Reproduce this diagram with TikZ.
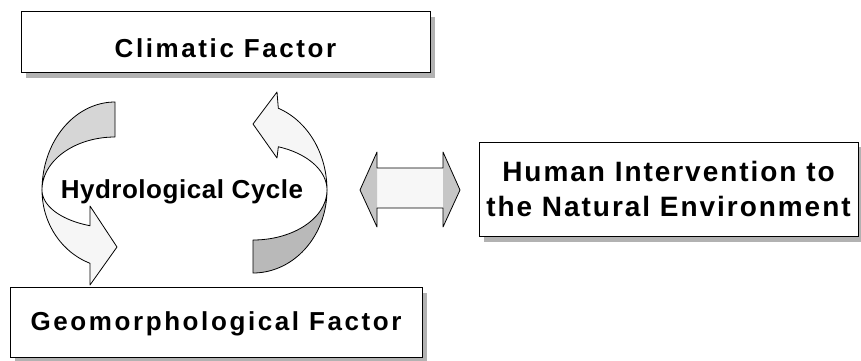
\documentclass[tikz,border=0pt]{standalone}
\usepackage{fontspec}
\setmainfont{Liberation Sans}
\newfontfamily\boxfont{Liberation Sans}[LetterSpace=10]
\newfontfamily\widefont{Liberation Sans}[LetterSpace=7]
\newfontfamily\cyclefont{Liberation Sans}[LetterSpace=2]
\usetikzlibrary{shadows}
\begin{document}
\begin{tikzpicture}[x=1pt,y=-1pt,
  factorbox/.style={draw=black, line width=0.9pt, fill=white, inner sep=0pt,
    font={\boxfont\bfseries\fontsize{26}{35}\selectfont},
    drop shadow={shadow xshift=5pt, shadow yshift=-6pt, fill=gray!60, opacity=1}},
  outline/.style={draw=black, line width=0.8pt, line join=round},
  backface/.style={fill=gray!32},
  darkface/.style={fill=gray!55},
  frontface/.style={fill=gray!7},
  headface/.style={fill=gray!45},
  shaftface/.style={fill=gray!6}]

\useasboundingbox (0,0) rectangle (861,360);

% factor boxes
\node[factorbox, minimum width=409pt, minimum height=61pt,
      text height=33pt, text depth=2pt] (climatic) at (225.5,41.5) {Climatic Factor};
\node[factorbox, minimum width=412pt, minimum height=70pt,
      text height=20pt, text depth=4pt] (geo) at (216,322) {Geomorphological Factor};
\node[factorbox, minimum width=379pt, minimum height=94pt, align=center,
      font={\widefont\bfseries\fontsize{28}{35}\selectfont},
      drop shadow={shadow xshift=5pt, shadow yshift=-5pt, fill=gray!60, opacity=1}]
      (human) at (668.5,189) {Human Intervention to\\the Natural Environment};

% left curved arrow: shaded tail band, then the front band with its head
\path[outline, backface]
  plot[domain=-90:-180, samples=40, variable=\t] ({115+73*cos(\t)},{190+88*sin(\t)})
  -- plot[domain=-180:-90, samples=40, variable=\t] ({115+73*cos(\t)},{190+53*sin(\t)})
  -- cycle;
\path[outline, frontface]
  plot[domain=180:110, samples=30, variable=\t] ({115+73*cos(\t)},{190+38*sin(\t)})
  -- (90,206) -- (117,247) -- (90,285)
  -- plot[domain=110:180, samples=30, variable=\t] ({115+73*cos(\t)},{190+78*sin(\t)})
  -- cycle;

% right curved arrow: dark tail band at the bottom, head band at the top
\path[outline, darkface]
  plot[domain=90:0, samples=40, variable=\t] ({253+74*cos(\t)},{190+83*sin(\t)})
  -- plot[domain=0:90, samples=40, variable=\t] ({253+74*cos(\t)},{190+50*sin(\t)})
  -- cycle;
\path[outline, frontface]
  plot[domain=0:-70, samples=30, variable=\t] ({253+74*cos(\t)},{190+87*sin(\t)})
  -- (277,92) -- (253,124) -- (277,158)
  -- plot[domain=-70:0, samples=30, variable=\t] ({253+74*cos(\t)},{190+46*sin(\t)})
  -- cycle;

\node[font={\cyclefont\bfseries\fontsize{26}{30}\selectfont}, anchor=base, inner sep=0pt]
  (hydro) at (182,198) {Hydrological Cycle};

% two-headed arrow between the cycle and the human intervention box
\path[shaftface] (377,168) rectangle (443,208);
\path[headface] (377,152) -- (360,190) -- (377,227) -- cycle;
\path[headface] (443,152) -- (460,190) -- (443,227) -- cycle;
\draw[outline] (360,190) -- (377,152) -- (377,168) -- (443,168) -- (443,152)
  -- (460,190) -- (443,227) -- (443,208) -- (377,208) -- (377,227) -- cycle;
\end{tikzpicture}
\end{document}
